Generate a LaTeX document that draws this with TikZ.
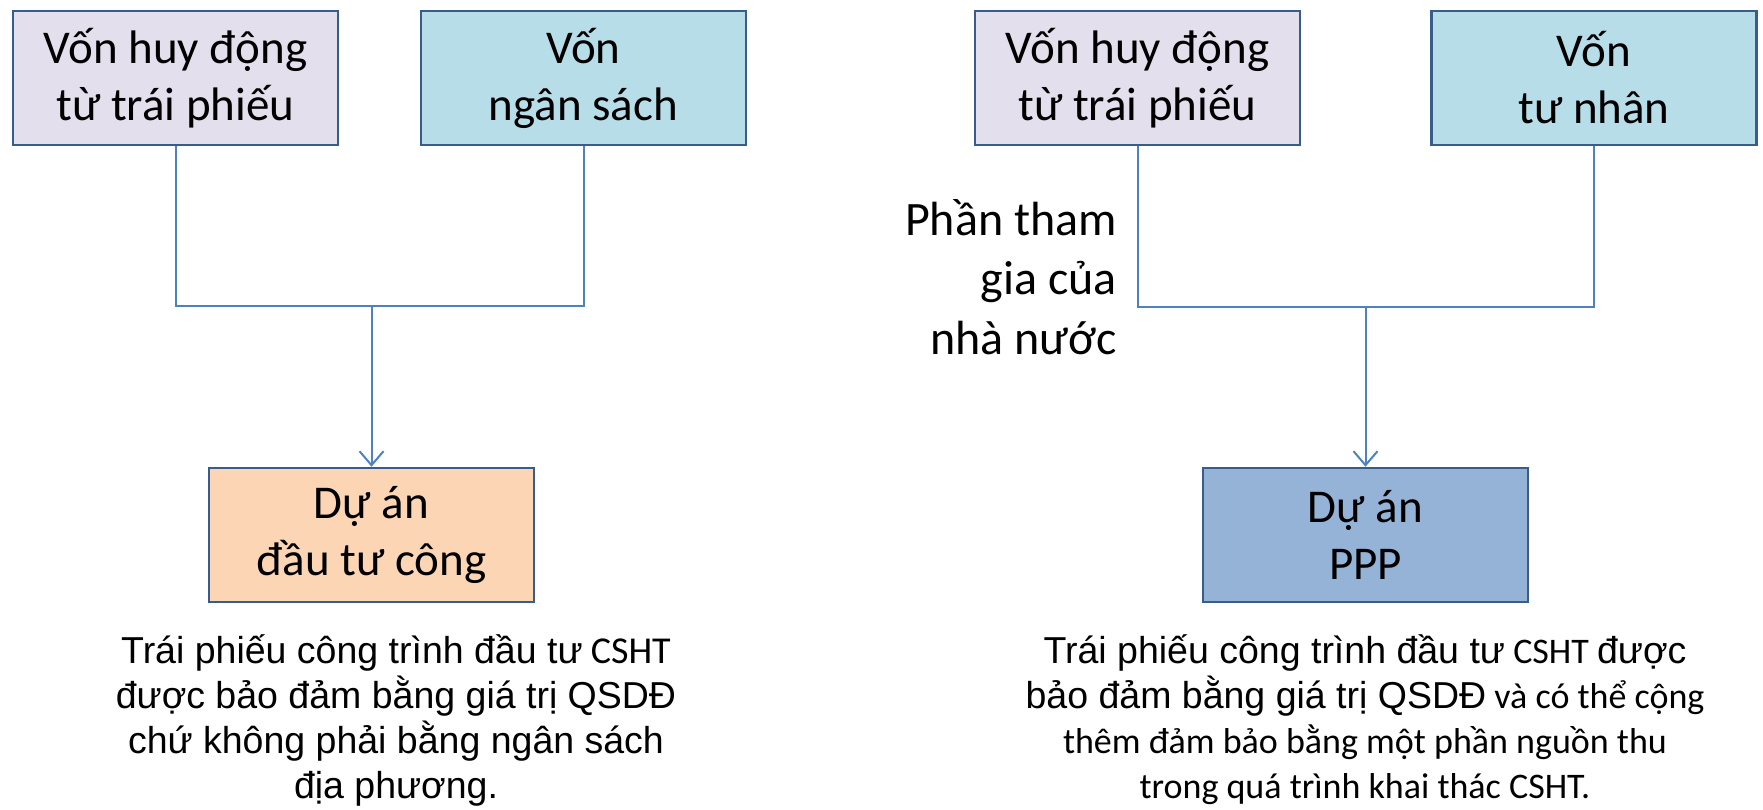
\documentclass[tikz,border=0pt]{standalone}
\usepackage{fontspec}
\setmainfont{Carlito}
\newfontfamily\arialf{Liberation Sans}
\usetikzlibrary{arrows.meta}
\definecolor{lav}{HTML}{E4DFEC}
\definecolor{aqua}{HTML}{B7DDE8}
\definecolor{peach}{HTML}{FCD5B5}
\definecolor{steel}{HTML}{95B3D7}
\definecolor{edgecol}{HTML}{385D8A}
\definecolor{conncol}{HTML}{4F81BD}
\begin{document}
\begin{tikzpicture}[x=1pt,y=-1pt,
  box/.style={draw=edgecol,line width=2.5pt,minimum width=325pt,minimum height=134pt,inner sep=0pt,align=center,font=\fontsize{47}{57}\selectfont},
  conn/.style={draw=conncol,line width=2pt},
  arr/.style={conn,-{Straight Barb[length=14pt,width=24pt,line width=2pt]}},
  note/.style={align=center,inner sep=0pt,font=\fontsize{36}{45}\selectfont},
  ar/.style={font=\arialf\fontsize{37.5}{45}\selectfont},
  lbl/.style={align=right,inner sep=0pt,anchor=east,font=\fontsize{48}{59.5}\selectfont}]
\useasboundingbox (0,0) rectangle (1763,810);
% left diagram
\node[box,fill=lav] (b1) at (175.5,78) {Vốn huy động\\từ trái phiếu};
\node[box,fill=aqua] (b2) at (583.5,78) {Vốn\\ngân sách};
\node[box,fill=peach] (p1) at (371.5,535) {Dự án\\đầu tư công};
\coordinate (j1) at (371.5,306);
\draw[conn] (b1.south) |- (j1) -| (b2.south);
\draw[arr] (j1) -- (p1.north);
\node[note] (t1) at (396,720) {{\arialf\fontsize{37.5}{45}\selectfont Trái phiếu công trình đầu tư} {\fontsize{38}{45}\selectfont CSHT}\\{\arialf\fontsize{37.5}{45}\selectfont được bảo đảm bằng giá trị QSDĐ}\\{\arialf\fontsize{37.5}{45}\selectfont chứ không phải bằng ngân sách}\\{\arialf\fontsize{37.5}{45}\selectfont địa phương.}};
% right diagram
\node[box,fill=lav] (b3) at (1137.5,78) {Vốn huy động\\từ trái phiếu};
\node[box,fill=aqua] (b4) at (1594,78) {Vốn\\tư nhân};
\node[box,fill=steel] (p2) at (1365.5,535) {Dự án\\PPP};
\coordinate (j2) at (1365.5,307);
\draw[conn] (b3.south) |- (j2) -| (b4.south);
\draw[arr] (j2) -- (p2.north);
\node[lbl] (l2) at (1117,277) {Phần tham\\gia của\\nhà nước};
\node[note] (t2) at (1365,720) {{\arialf\fontsize{37.5}{45}\selectfont Trái phiếu công trình đầu tư} CSHT {\arialf\fontsize{37.5}{45}\selectfont được}\\{\arialf\fontsize{37.5}{45}\selectfont bảo đảm bằng giá trị QSDĐ} và có thể cộng\\thêm đảm bảo bằng một phần nguồn thu\\trong quá trình khai thác CSHT.};
\end{tikzpicture}
\end{document}
